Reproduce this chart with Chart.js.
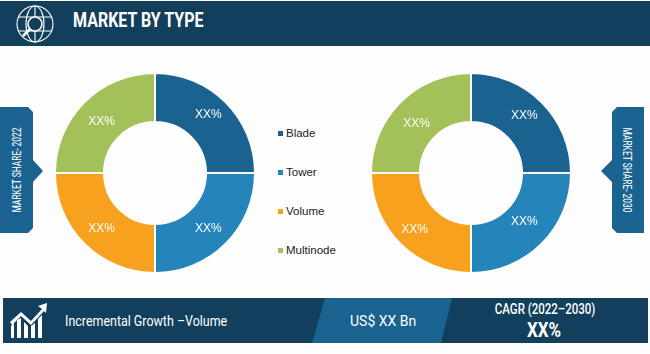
<!DOCTYPE html>
<html lang="en">
<head>
<meta charset="UTF-8" />
<title>Market by Type</title>
<script src="https://cdn.jsdelivr.net/npm/chart.js"></script>
<style>
  html,body{margin:0;padding:0;background:#fdfdfd;}
  #page{position:relative;width:650px;height:354px;overflow:hidden;font-family:Roboto,sans-serif;}
  #page div,#page svg,#page canvas{position:absolute;}
  .txt{white-space:nowrap;color:#fff;transform-origin:left center;}
  .wrap{width:220px;height:220px;}
  .legend-mark{width:5px;height:5px;}
  .legend-text{font:11.5px "Liberation Sans",sans-serif;color:#222;white-space:nowrap;}
  .side{font-size:12px;color:#fff;white-space:nowrap;width:126px;text-align:center;line-height:14px;}
</style>
</head>
<body>
<div id="page">
  <!-- header -->
  <div style="left:0;top:1px;width:650px;height:45px;background:#12405c"></div>
  <svg style="left:15px;top:5px" width="40" height="38" viewBox="0 0 40 38" fill="none" stroke="#fff" stroke-width="1.1">
    <circle cx="20" cy="19" r="18"/>
    <ellipse cx="20" cy="19" rx="9" ry="18"/>
    <path d="M20 1V37M3 12H37M3 26H37"/>
    <circle cx="20" cy="19" r="7" fill="#12405c" stroke-width="1.6"/>
    <path d="M15 24L8 31" stroke-width="2.6"/>
  </svg>
  <div class="txt" id="title" style="left:73px;top:8px;font-size:20px;font-weight:700;line-height:24px;transform:scaleX(.8)"></div>

  <!-- side tags -->
  <svg style="left:0;top:100px" width="50" height="140">
    <path d="M0 7H28L33 12V60L43 71L33 82V128L28 133H0Z" fill="#1a6391"/>
  </svg>
  <div class="side" id="sideL" style="left:-46px;top:163px;transform:rotate(-90deg) scaleX(.7)"></div>
  <svg style="left:598px;top:100px" width="52" height="140">
    <path d="M46 7H19L14 12V60L3 71L14 82V128L19 133H46Z" fill="#1a6391"/>
  </svg>
  <div class="side" id="sideR" style="left:564px;top:163px;transform:rotate(90deg) scaleX(.7)"></div>

  <!-- doughnuts -->
  <div class="wrap" style="left:45px;top:63px"><canvas id="chartL" width="220" height="220"></canvas></div>
  <div class="wrap" style="left:361px;top:63px"><canvas id="chartR" width="220" height="220"></canvas></div>
  <div id="legend"></div>

  <!-- footer -->
  <div style="left:3px;top:298px;width:645px;height:45px;background:#12405c"></div>
  <svg style="left:300px;top:298px" width="170" height="45"><path d="M25 0H152L141 45H12Z" fill="#1a6391"/></svg>
  <svg style="left:9px;top:302px" width="40" height="38" viewBox="0 0 40 38" fill="#fff">
    <path d="M2 36V24L5 21V36ZM8 36V18L12 16V36ZM15 36V20L19 24V36ZM22 36V24L26 21V36ZM29 36V17L33 13V36Z"/>
    <path d="M1 20L12 10L22 19L33 7L29 4L38 1L37 11L35 9L22 23L12 14L3 23Z"/>
  </svg>
  <div class="txt" id="growth" style="left:65px;top:312px;font-size:15px;line-height:18px;transform:scaleX(.83)"></div>
  <div class="txt" id="value" style="left:350px;top:312px;font-size:14px;line-height:18px"></div>
  <div class="txt" id="cagr" style="left:484px;top:300px;width:120px;text-align:center;font-size:14px;font-weight:500;line-height:18px;transform-origin:center;transform:scaleX(.82)"></div>
  <div class="txt" id="cagrVal" style="left:484px;top:319px;width:120px;text-align:center;font-size:20px;font-weight:700;line-height:22px;transform-origin:center;transform:scaleX(.85)"></div>
</div>

<script>
// ---- data ----
const categories = ['Blade', 'Tower', 'Volume', 'Multinode'];
const share2022  = [25, 25, 25, 25];
const share2030  = [25, 25, 25, 25];
const sliceText  = ['XX%', 'XX%', 'XX%', 'XX%'];
const colors     = ['#1a6391', '#2584b9', '#f7a11f', '#a4c058'];

const titleText  = 'MARKET BY TYPE';
const sideLeft   = 'MARKET SHARE- 2022';
const sideRight  = 'MARKET SHARE- 2030';
const growthText = 'Incremental Growth –Volume';
const valueText  = 'US$ XX Bn';
const cagrText   = 'CAGR (2022–2030)';
const cagrValue  = 'XX%';

// ---- banner text ----
document.getElementById('title').textContent   = titleText;
document.getElementById('sideL').textContent   = sideLeft;
document.getElementById('sideR').textContent   = sideRight;
document.getElementById('growth').textContent  = growthText;
document.getElementById('value').textContent   = valueText;
document.getElementById('cagr').textContent    = cagrText;
document.getElementById('cagrVal').textContent = cagrValue;

// ---- legend ----
const legend = document.getElementById('legend');
categories.forEach((c, i) => {
  const top = 133 + i * 39;
  legend.insertAdjacentHTML('beforeend',
    `<div class="legend-mark" style="left:278px;top:${top - 2}px;background:${colors[i]}"></div>` +
    `<div class="legend-text" style="left:286px;top:${top - 6}px">${c}</div>`);
});

// labels inside each slice, nudged off the arc centre like the original
const nudgeL = [[0, -5], [0, 2], [0, 2], [0, 2]];
const nudgeR = [[0, -4], [0, -5], [-3, 3], [-1, 4]];

function sliceLabels(nudge) {
  return {
    id: 'sliceLabels',
    afterDatasetsDraw(chart) {
      const { ctx } = chart;
      ctx.save();
      ctx.font = '12px "Liberation Sans", sans-serif';
      ctx.fillStyle = '#fff';
      ctx.textAlign = 'center';
      ctx.textBaseline = 'middle';
      chart.getDatasetMeta(0).data.forEach((arc, i) => {
        const p = arc.getCenterPoint();
        ctx.fillText(sliceText[i], p.x + nudge[i][0], p.y + nudge[i][1]);
      });
      ctx.restore();
    }
  };
}

function donut(id, values, nudge) {
  new Chart(document.getElementById(id), {
    type: 'doughnut',
    data: {
      labels: categories,
      datasets: [{ data: values, backgroundColor: colors, borderColor: '#fdfdfd', borderWidth: 2 }]
    },
    options: {
      responsive: false,
      animation: false,
      cutout: '51%',
      layout: { padding: 9 },
      plugins: { legend: { display: false }, tooltip: { enabled: false } }
    },
    plugins: [sliceLabels(nudge)]
  });
}

donut('chartL', share2022, nudgeL);
donut('chartR', share2030, nudgeR);
</script>
</body>
</html>
